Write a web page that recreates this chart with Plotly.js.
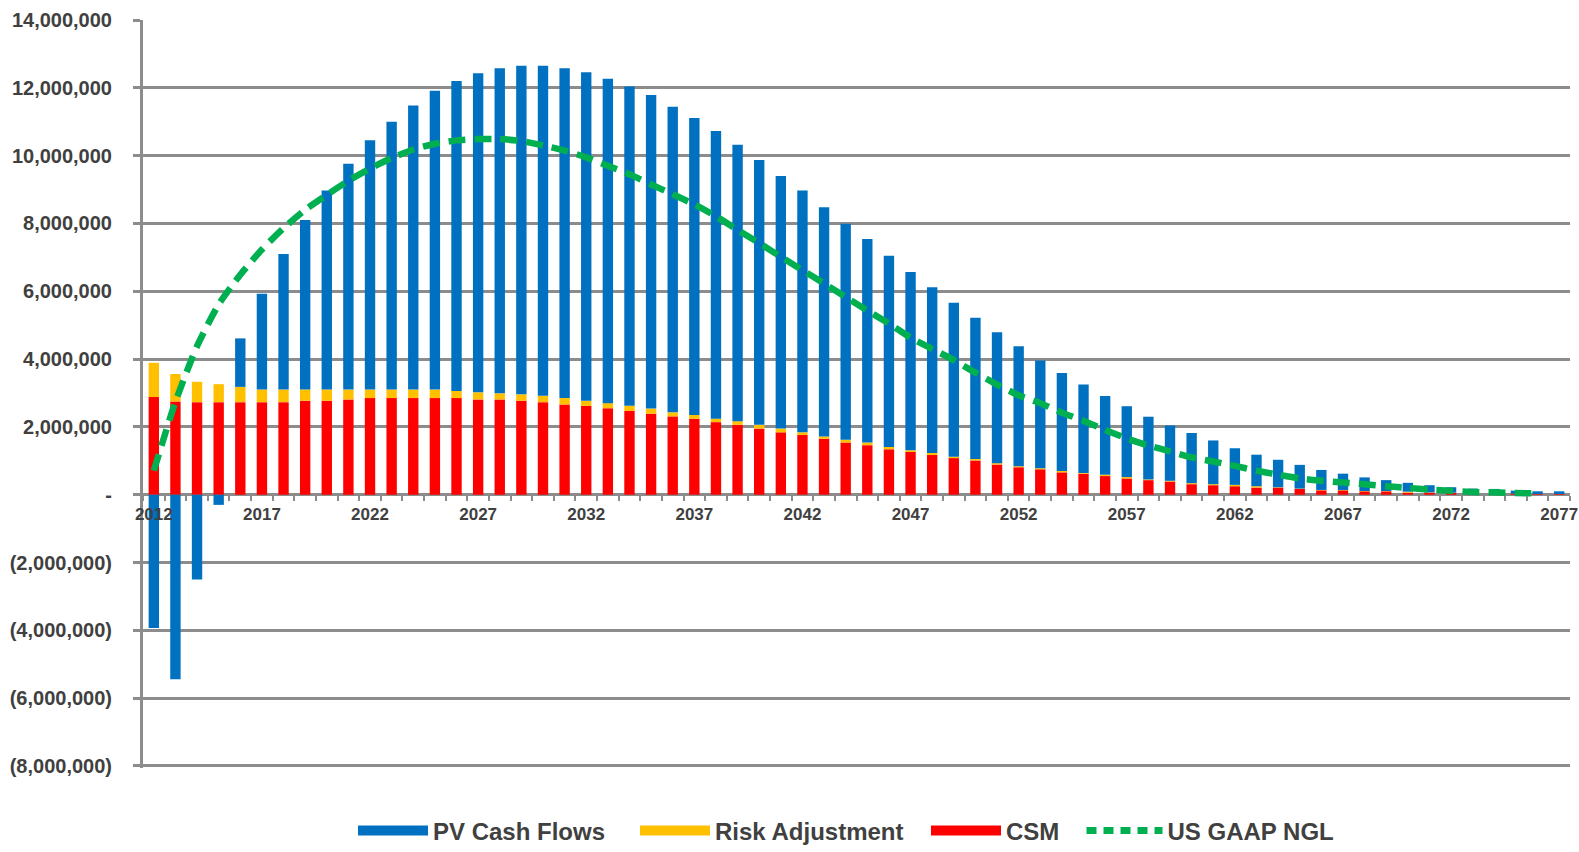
<!DOCTYPE html>
<html>
<head>
<meta charset="utf-8">
<script src="https://cdn.plot.ly/plotly-3.0.1.min.js"></script>
<style>html,body{margin:0;padding:0;background:#fff;}#chart{width:1579px;height:852px;}</style>
</head>
<body>
<div id="chart"></div>
<script>
// Years (categories)
const years = ["2012","2013","2014","2015","2016","2017","2018","2019","2020","2021","2022","2023","2024","2025","2026","2027","2028","2029","2030","2031","2032","2033","2034","2035","2036","2037","2038","2039","2040","2041","2042","2043","2044","2045","2046","2047","2048","2049","2050","2051","2052","2053","2054","2055","2056","2057","2058","2059","2060","2061","2062","2063","2064","2065","2066","2067","2068","2069","2070","2071","2072","2073","2074","2075","2076","2077"];

// Values in millions
const csm = [2.88,2.75,2.73,2.73,2.73,2.73,2.73,2.77,2.77,2.81,2.85,2.85,2.85,2.85,2.85,2.81,2.81,2.77,2.73,2.66,2.62,2.55,2.47,2.39,2.31,2.24,2.14,2.06,1.95,1.84,1.76,1.65,1.54,1.46,1.34,1.26,1.17,1.08,1.01,0.89,0.81,0.75,0.66,0.62,0.55,0.48,0.43,0.39,0.31,0.28,0.25,0.21,0.21,0.17,0.13,0.13,0.10,0.10,0.06,0.06,0.05,0.04,0.06,0.03,0.02,0.02];

const riskAdj = [1.01,0.81,0.60,0.53,0.45,0.37,0.37,0.33,0.33,0.29,0.25,0.25,0.25,0.25,0.21,0.21,0.18,0.19,0.19,0.19,0.15,0.15,0.15,0.15,0.12,0.11,0.10,0.11,0.11,0.11,0.08,0.07,0.08,0.08,0.07,0.05,0.06,0.04,0.04,0.04,0.03,0.03,0.04,0.02,0.04,0.04,0.02,0.02,0.03,0.03,0.04,0.04,0.01,0.01,0.01,0.01,0.01,0.01,0.03,0.01,0.01,0.01,0.01,0,0,0];

const pvCashFlows = [-3.93,-5.44,-2.50,-0.30,1.43,2.83,4.00,5.00,5.87,6.66,7.35,7.90,8.38,8.81,9.14,9.41,9.59,9.69,9.73,9.73,9.69,9.57,9.42,9.25,9.01,8.76,8.49,8.15,7.81,7.45,7.13,6.76,6.37,6.00,5.64,5.26,4.89,4.54,4.17,3.86,3.54,3.18,2.89,2.61,2.32,2.09,1.85,1.63,1.48,1.29,1.08,0.93,0.81,0.70,0.59,0.48,0.40,0.32,0.26,0.21,0.16,0.13,0.10,0.09,0.08,0.08];

const usGaapNgl = [0.71,2.74,4.38,5.61,6.49,7.23,7.86,8.40,8.84,9.26,9.62,9.93,10.18,10.35,10.45,10.49,10.49,10.43,10.30,10.15,9.95,9.70,9.45,9.15,8.86,8.56,8.21,7.81,7.42,7.02,6.62,6.23,5.83,5.43,5.05,4.63,4.30,3.97,3.60,3.25,2.93,2.70,2.42,2.18,1.91,1.66,1.45,1.28,1.10,0.98,0.85,0.71,0.59,0.48,0.41,0.36,0.31,0.25,0.20,0.15,0.12,0.08,0.07,0.05,0.04,null];

// Axis ticks
const yTickVals = [14,12,10,8,6,4,2,0,-2,-4,-6,-8];
const yTickText = ["14,000,000","12,000,000","10,000,000","8,000,000","6,000,000","4,000,000","2,000,000","-","(2,000,000)","(4,000,000)","(6,000,000)","(8,000,000)"];
const xLabelYears = ["2012","2017","2022","2027","2032","2037","2042","2047","2052","2057","2062","2067","2072","2077"];

const textColor = "#404040";
const gridColor = "#8c8c8c";
const fontFam = "Liberation Sans, Arial, sans-serif";
const colors = {pv:"#0070C0", ra:"#FFC000", csm:"#FF0000", ngl:"#00B050"};
const yMin = -8.06, yMax = 14;

const traces = [
  {type:"bar", name:"CSM", x:years, y:csm, marker:{color:colors.csm}, showlegend:false},
  {type:"bar", name:"Risk Adjustment", x:years, y:riskAdj, marker:{color:colors.ra}, showlegend:false},
  {type:"bar", name:"PV Cash Flows", x:years, y:pvCashFlows, marker:{color:colors.pv}, showlegend:false},
  {type:"scatter", mode:"lines", name:"US GAAP NGL", x:years, y:usGaapNgl,
   line:{color:colors.ngl, width:6.5, dash:"17px,9px", shape:"spline", smoothing:0.6}, showlegend:false},
  // legend entries (wide swatches like the original)
  {type:"scatter", mode:"lines", name:"PV Cash Flows", x:[null], y:[null], line:{color:colors.pv, width:15}, legend:"legend"},
  {type:"scatter", mode:"lines", name:"Risk Adjustment", x:[null], y:[null], line:{color:colors.ra, width:15}, legend:"legend2"},
  {type:"scatter", mode:"lines", name:"CSM", x:[null], y:[null], line:{color:colors.csm, width:15}, legend:"legend3"},
  {type:"scatter", mode:"lines", name:"US GAAP NGL", x:[null], y:[null], line:{color:colors.ngl, width:7, dash:"10px,7px"}, legend:"legend4"}
];

const legFont = {family:fontFam, size:24, color:textColor, weight:"bold"};
function leg(px, w){
  return {orientation:"h", x:(px-143)/1427, xanchor:"left", y:-0.084, yanchor:"middle",
          font:legFont, itemwidth:w, bgcolor:"rgba(0,0,0,0)"};
}

const layout = {
  width:1579, height:852,
  margin:{l:143, r:9, t:20, b:84, autoexpand:false},
  paper_bgcolor:"#ffffff", plot_bgcolor:"#ffffff",
  barmode:"relative", bargap:0.52,
  showlegend:true,
  legend:leg(353,70), legend2:leg(635,70), legend3:leg(926,70), legend4:leg(1081.5,76),
  xaxis:{type:"category", tickvals:years, ticktext:years.map(y=>xLabelYears.includes(y)?y:""),
         anchor:"free", position:(0-yMin)/(yMax-yMin), ticklabelstandoff:7,
         tickangle:0, tickson:"boundaries", ticks:"outside", ticklen:5, tickwidth:2, tickcolor:gridColor,
         showline:false, showgrid:false, zeroline:false, automargin:false,
         tickfont:{family:fontFam, size:17, color:textColor, weight:"bold"}, fixedrange:true},
  yaxis:{range:[yMin,yMax], tickvals:yTickVals, ticktext:yTickText, automargin:false,
         ticks:"outside", ticklen:7, tickwidth:3, tickcolor:gridColor, ticklabelstandoff:17,
         showgrid:true, gridcolor:gridColor, gridwidth:3,
         zeroline:true, zerolinecolor:gridColor, zerolinewidth:3,
         showline:true, linecolor:gridColor, linewidth:3,
         tickfont:{family:fontFam, size:20, color:textColor, weight:"bold"}, fixedrange:true}
};

Plotly.newPlot("chart", traces, layout, {displayModeBar:false, staticPlot:true});
</script>
</body>
</html>
